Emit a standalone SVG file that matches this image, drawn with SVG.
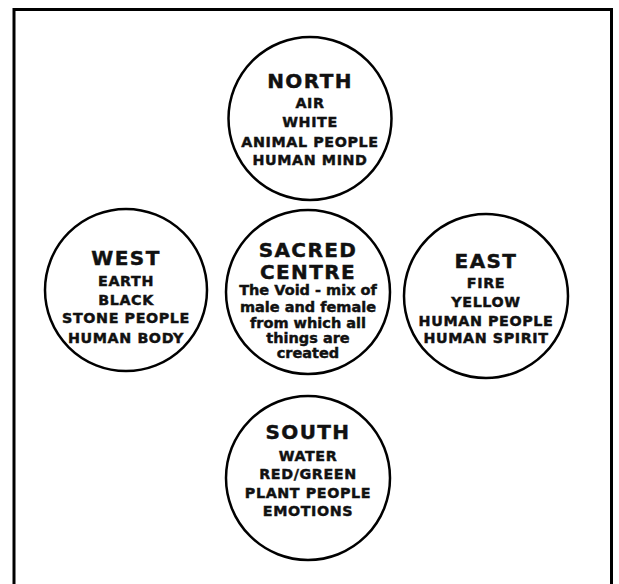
<svg xmlns="http://www.w3.org/2000/svg" width="619" height="584" viewBox="0 0 619 584">
<style>
.c{fill:#fff;stroke:#000;stroke-width:2.5}
text{font-family:"DejaVu Sans","Open Sans",sans-serif;font-weight:bold;fill:#111;stroke:#111;stroke-width:0.45px;text-anchor:middle}
.t{font-size:20px;letter-spacing:1.4px}
.s{font-size:14.3px;letter-spacing:0.6px}
.l{font-size:14.5px}
</style>
<rect x="0" y="0" width="619" height="584" fill="#fff" stroke="none"/>
<rect x="14" y="9.5" width="597.5" height="590" fill="none" stroke="#000" stroke-width="3"/>
<g id="north">
<circle class="c" cx="310" cy="118.5" r="81.5"/>
<text class="t" x="310" y="88">NORTH</text>
<text class="s" x="310" y="108">AIR</text>
<text class="s" x="310" y="127">WHITE</text>
<text class="s" x="310" y="147">ANIMAL PEOPLE</text>
<text class="s" x="310" y="165">HUMAN MIND</text>
</g>
<g id="west">
<circle class="c" cx="126" cy="290" r="81"/>
<text class="t" x="126" y="265">WEST</text>
<text class="s" x="126" y="286">EARTH</text>
<text class="s" x="126" y="305">BLACK</text>
<text class="s" x="126" y="323">STONE PEOPLE</text>
<text class="s" x="126" y="343">HUMAN BODY</text>
</g>
<g id="centre">
<circle class="c" cx="308" cy="292" r="82"/>
<text class="t" x="308" y="257">SACRED</text>
<text class="t" x="308" y="279">CENTRE</text>
<text class="l" x="308" y="295">The Void - mix of</text>
<text class="l" x="308" y="311.5">male and female</text>
<text class="l" x="308" y="327.5">from which all</text>
<text class="l" x="308" y="343">things are</text>
<text class="l" x="308" y="358">created</text>
</g>
<g id="east">
<circle class="c" cx="486" cy="296" r="82"/>
<text class="t" x="486" y="268">EAST</text>
<text class="s" x="486" y="288">FIRE</text>
<text class="s" x="486" y="307">YELLOW</text>
<text class="s" x="486" y="326">HUMAN PEOPLE</text>
<text class="s" x="486" y="343">HUMAN SPIRIT</text>
</g>
<g id="south">
<circle class="c" cx="308" cy="478" r="82"/>
<text class="t" x="308" y="439">SOUTH</text>
<text class="s" x="308" y="461">WATER</text>
<text class="s" x="308" y="479">RED/GREEN</text>
<text class="s" x="308" y="498">PLANT PEOPLE</text>
<text class="s" x="308" y="516">EMOTIONS</text>
</g>
<g id="connectors"/>
</svg>
